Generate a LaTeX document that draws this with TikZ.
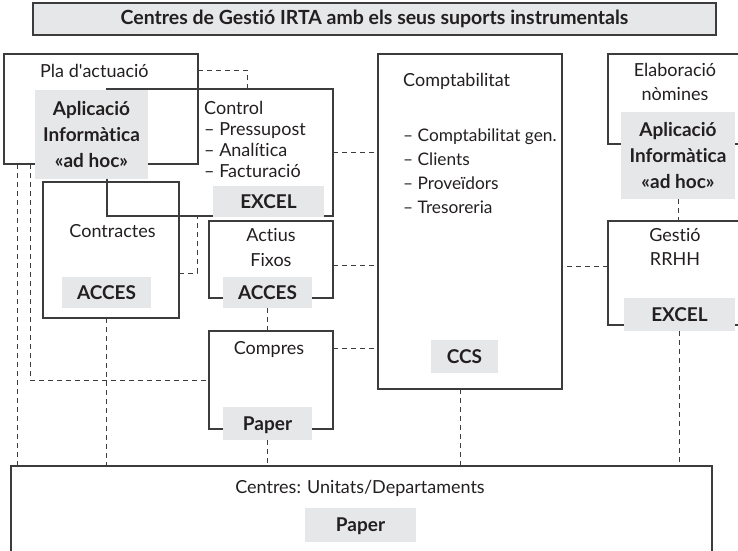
\documentclass[tikz,border=0pt]{standalone}
\usepackage{fontspec}
\setmainfont{Lato}[Ligatures=NoCommon]
\usetikzlibrary{positioning,calc}
\definecolor{tagfill}{HTML}{E6E7E8}
\definecolor{ink}{HTML}{231F20}
\definecolor{rulegray}{HTML}{3C3C3C}

\begin{document}
\begin{tikzpicture}[x=1pt, y=-1pt,
    unit/.style={draw=rulegray, line width=1.2pt, inner sep=0pt, outer sep=0pt},
    tag/.style={fill=tagfill, inner sep=0pt, outer sep=0pt, align=center, text=ink,
        font=\fontsize{19}{26}\selectfont\bfseries},
    tagone/.style={tag, text height=13pt, text depth=0pt},
    txt/.style={inner sep=0pt, text=ink, font=\fontsize{18}{21}\selectfont,
        text height=13pt, text depth=0pt},
    link/.style={draw=rulegray, line width=0.8pt, dash pattern=on 5pt off 4pt}
]
\useasboundingbox (0,0) rectangle (738,550);

% titol
\node[unit, fill=tagfill, minimum width=683pt, minimum height=32pt, text=ink,
    font=\fontsize{19.5}{20}\selectfont\bfseries] (title) at (374.5,19)
    {Centres de Gestió IRTA amb els seus suports instrumentals};

% unitats
\node[unit, minimum width=194pt, minimum height=110pt] (pla) at (101,109) {};
\node[unit, minimum width=226pt, minimum height=127pt] (control) at (220,152.5) {};
\node[unit, minimum width=136pt, minimum height=136pt] (contr) at (111,250) {};
\node[unit, minimum width=124pt, minimum height=77pt] (actius) at (271,259.5) {};
\node[unit, minimum width=124pt, minimum height=98pt] (compres) at (271,380) {};
\node[unit, minimum width=184pt, minimum height=335pt] (compt) at (470,221.5) {};
\node[unit, minimum width=137pt, minimum height=90pt] (elab) at (676.5,99) {};
\node[unit, minimum width=137pt, minimum height=104pt] (gestio) at (676.5,273) {};
\node[unit, minimum width=701pt, minimum height=104pt] (centres) at (361.5,518) {};

% suports
\node[tag, minimum width=113pt, minimum height=89pt] (plaapp) at (91.5,134.5)
    {Aplicació\\Informàtica\\«ad hoc»};
\node[tagone, minimum width=111pt, minimum height=31pt] (ctrlxl) at (268.5,201.5) {EXCEL};
\node[tagone, minimum width=89pt, minimum height=31pt] (contracc) at (106.5,292.5) {ACCES};
\node[tagone, minimum width=89pt, minimum height=31pt] (actacc) at (267.5,292.5) {ACCES};
\node[tagone, minimum width=89pt, minimum height=33pt] (comppap) at (267.5,423.5) {Paper};
\node[tagone, minimum width=67pt, minimum height=33pt] (ccs) at (464.5,356.5) {CCS};
\node[tag, minimum width=114pt, minimum height=87pt] (elabapp) at (678,155.5)
    {Aplicació\\Informàtica\\«ad hoc»};
\node[tagone, minimum width=111pt, minimum height=33pt] (gestxl) at (679.5,314.5) {EXCEL};
\node[tagone, minimum width=111pt, minimum height=34pt] (cenpap) at (360.5,525) {Paper};

% textos
\node[txt, anchor=west] (platxt) at (40,71) {Pla d\textquotesingle actuació};
\node[txt, anchor=west] (ctrltxt) at (204,107.5) {Control};
\foreach \t [count=\i] in {Pressupost, Analítica, Facturació}
    \node[txt, anchor=west] (ctrl\i) at (204,107.5+21*\i) {– \t};
\node[txt, anchor=west] (compttxt) at (403,80) {Comptabilitat};
\foreach \t [count=\i from 0] in {Comptabilitat gen., Clients, Proveïdors, Tresoreria}
    \node[txt, anchor=west, font=\fontsize{17.3}{21}\selectfont] (compt\i) at (403,134.5+24.3*\i) {– \t};
\node[txt] (elab1) at (675,70) {Elaboració};
\node[txt] (elab2) at (675,94) {nòmines};
\node[txt] (gest1) at (675,235) {Gestió};
\node[txt] (gest2) at (675,259) {RRHH};
\node[txt] (contrtxt) at (112.5,230.5) {Contractes};
\node[txt] (act1) at (271,234.5) {Actius};
\node[txt] (act2) at (271,260) {Fixos};
\node[txt] (comprtxt) at (269,348) {Compres};
\node[txt] (centtxt) at (360,487) {Centres: Unitats/Departaments};

% relacions
\draw[link] ([yshift=-16pt]pla.north east) -| ([xshift=27pt]control.north);
\draw[link] (control.east) -- (control.east -| compt.west);
\draw[link] ([yshift=-23pt]contr.east) -| ([xshift=-23pt]control.south);
\draw[link] ([yshift=-6pt]actius.east) -- ([yshift=-6pt]actius.east -| compt.west);
\draw[link] (actacc.south) -- (actacc.south |- compres.north);
\draw[link] ([yshift=-17pt]compres.north east) -- ([yshift=-17pt]compres.north east -| compt.west);
\draw[link] ([xshift=26pt]pla.south west) |- (compres.west);
\draw[link] ([xshift=13pt]pla.south west) -- ([xshift=13pt]pla.south west |- centres.north);
\draw[link] ([xshift=-5pt]contr.south) -- ([xshift=-5pt]contr.south |- centres.north);
\draw[link] (comppap.south) -- (comppap.south |- centres.north);
\draw[link] ([xshift=-10pt]compt.south) -- ([xshift=-10pt]compt.south |- centres.north);
\draw[link] ([yshift=7pt]gestio.west) -- ([yshift=7pt]gestio.west -| compt.east);
\draw[link] (elabapp.south) -- (elabapp.south |- gestio.north);
\draw[link] (gestxl.south) -- (gestxl.south |- centres.north);
\end{tikzpicture}
\end{document}
